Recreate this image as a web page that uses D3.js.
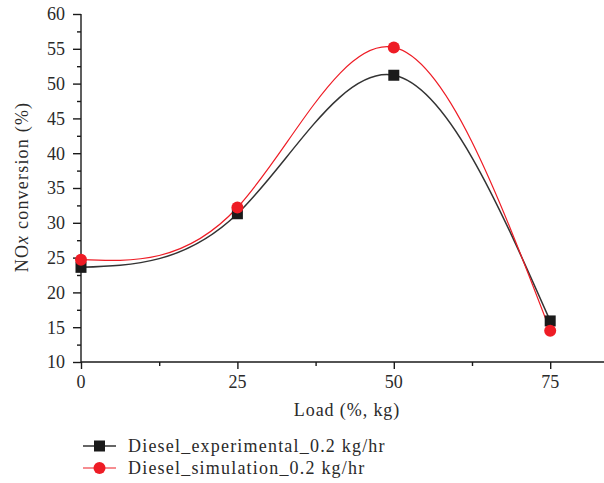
<!DOCTYPE html>
<html>
<head>
<meta charset="utf-8">
<script src="https://cdn.jsdelivr.net/npm/d3@7"></script>
<style>
  html, body { margin: 0; padding: 0; background: #fff; }
  svg { display: block; }
  text { font-family: "Liberation Serif", "DejaVu Serif", serif; fill: #2a2a2a; }
</style>
</head>
<body>
<svg id="chart" width="604" height="483"></svg>
<script>
const loads = [0, 25, 50, 75];
const experimental = [23.6, 31.3, 51.2, 15.9];
const simulation = [24.7, 32.2, 55.2, 14.5];
const xTicks = [0, 25, 50, 75];
const yTicks = [10, 15, 20, 25, 30, 35, 40, 45, 50, 55, 60];
const seriesNames = ["Diesel_experimental_0.2 kg/hr", "Diesel_simulation_0.2 kg/hr"];

const svg = d3.select("#chart");
const x = d3.scaleLinear().domain([0, 83.6]).range([81, 604]);
const y = d3.scaleLinear().domain([10, 60]).range([362, 14]);

const axisColor = "#1a1a1a";

// Y axis
const gy = svg.append("g").attr("transform", `translate(${x(0)},0)`);
gy.call(d3.axisLeft(y).tickValues(d3.range(10, 60.01, 2.5)).tickSize(4).tickFormat(""));
gy.call(g => g.selectAll(".tick").filter(d => yTicks.includes(d)).select("line").attr("x2", -8));
gy.selectAll("line, path").attr("stroke", axisColor).attr("stroke-width", 1.4);
gy.select(".domain").attr("d", `M0,${y(60)}V${y(10)}`);
gy.selectAll(".ylab").data(yTicks).enter().append("text")
  .attr("class", "ylab")
  .attr("x", -16).attr("y", d => y(d)).attr("dy", "0.35em")
  .attr("text-anchor", "end").attr("font-size", 18)
  .text(d => d);

// X axis
const gx = svg.append("g").attr("transform", `translate(0,${y(10)})`);
gx.call(d3.axisBottom(x).tickValues(d3.range(0, 75.01, 12.5)).tickSize(4).tickFormat(""));
gx.call(g => g.selectAll(".tick").filter(d => xTicks.includes(d)).select("line").attr("y2", 7));
gx.selectAll("line, path").attr("stroke", axisColor).attr("stroke-width", 1.4);
gx.select(".domain").attr("d", `M${x(0)},0H604`);
gx.selectAll(".xlab").data(xTicks).enter().append("text")
  .attr("class", "xlab")
  .attr("x", d => x(d)).attr("y", 26)
  .attr("text-anchor", "middle").attr("font-size", 18)
  .text(d => d);

// Axis titles
svg.append("text").attr("x", 347).attr("y", 416)
  .attr("text-anchor", "middle").attr("font-size", 18).attr("letter-spacing", 0.9)
  .text("Load (%, kg)");
const yt = svg.append("text")
  .attr("transform", `translate(28,187) rotate(-90)`)
  .attr("text-anchor", "middle").attr("font-size", 18).attr("letter-spacing", 1.2);
yt.append("tspan").text("NO");
yt.append("tspan").attr("font-style", "italic").text("x");
yt.append("tspan").text(" conversion (%)");

// Lines
const line = d3.line().x((d, i) => x(loads[i])).y(d => y(d)).curve(d3.curveNatural);
const black = "#1a1a1a", red = "#ee1c25";
svg.append("path").datum(experimental).attr("d", line)
  .attr("fill", "none").attr("stroke", "#333").attr("stroke-width", 1.5);
svg.append("path").datum(simulation).attr("d", line)
  .attr("fill", "none").attr("stroke", red).attr("stroke-width", 1.2);

// Markers
svg.selectAll(".sq").data(experimental).enter().append("rect")
  .attr("x", (d, i) => x(loads[i]) - 5.5).attr("y", d => y(d) - 5.5)
  .attr("width", 11).attr("height", 11).attr("fill", black);
svg.selectAll(".ci").data(simulation).enter().append("circle")
  .attr("cx", (d, i) => x(loads[i])).attr("cy", d => y(d))
  .attr("r", 6).attr("fill", red);

// Legend
const leg = svg.append("g");
const ly = [446, 468];
leg.append("line").attr("x1", 83).attr("x2", 116).attr("y1", ly[0]).attr("y2", ly[0]).attr("stroke", "#333").attr("stroke-width", 1.5);
leg.append("rect").attr("x", 99.5 - 5.5).attr("y", ly[0] - 5.5).attr("width", 11).attr("height", 11).attr("fill", black);
leg.append("line").attr("x1", 83).attr("x2", 116).attr("y1", ly[1]).attr("y2", ly[1]).attr("stroke", red).attr("stroke-width", 1.2);
leg.append("circle").attr("cx", 99.5).attr("cy", ly[1]).attr("r", 6).attr("fill", red);
leg.selectAll(".lt").data(seriesNames).enter().append("text")
  .attr("x", 128).attr("y", (d, i) => ly[i]).attr("dy", "0.35em")
  .attr("font-size", 18).attr("letter-spacing", 1.2).text(d => d);
</script>
</body>
</html>
